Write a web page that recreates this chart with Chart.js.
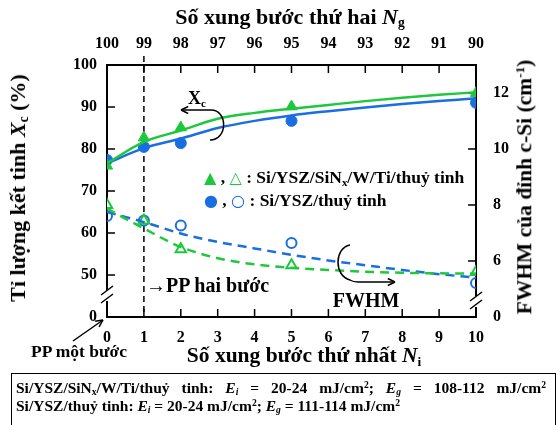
<!DOCTYPE html>
<html>
<head>
<meta charset="utf-8">
<script src="https://cdn.jsdelivr.net/npm/chart.js@4.4.1/dist/chart.umd.min.js"></script>
<style>
  html, body { margin: 0; padding: 0; background: #fff; }
  #wrap { position: relative; width: 560px; height: 425px; overflow: hidden; font-family: 'Liberation Serif', 'Times New Roman', serif; font-weight: bold; color: #000; }
  #c { position: absolute; left: 0; top: 0; }
  .t { position: absolute; white-space: nowrap; line-height: 1; }
  .c { transform: translate(-50%, -50%); }
  .r { transform: translate(-50%, -50%) rotate(-90deg); }
  sub { font-size: 0.62em; vertical-align: -0.25em; line-height: 0; }
  sup { font-size: 0.62em; vertical-align: 0.55em; line-height: 0; }
  .g { color: rgb(30, 200, 60); }
  .b { color: rgb(25, 110, 225); }
  .sym { font-family: 'DejaVu Sans', sans-serif; font-size: 16px; }
  #box { position: absolute; left: 11px; top: 373px; width: 545px; height: 60px; border: 1px solid #000; box-sizing: border-box; }
  .just { text-align: justify; text-align-last: justify; white-space: normal; }
</style>
</head>
<body>
<div id="wrap">
  <canvas id="c" width="560" height="425"></canvas>
  <div class="t c" style="left:290px;top:17px;font-size:22px">Số xung bước thứ hai <i>N</i><sub>g</sub></div>
  <div class="t c" style="left:304px;top:356px;font-size:21.5px">Số xung bước thứ nhất <i>N</i><sub>i</sub></div>
  <div class="t r" style="left:18px;top:188px;font-size:22px">Tỉ lượng kết tinh <i>X</i><sub>c</sub> (%)</div>
  <div class="t r" style="left:525px;top:187px;font-size:21.5px">FWHM của đỉnh c-Si (cm<sup>-1</sup>)</div>
  <div class="t" style="left:204px;top:169px;font-size:17.5px"><span class="sym g">▲</span> , <span class="sym g">△</span> : Si/YSZ/SiN<sub>x</sub>/W/Ti/thuỷ tinh</div>
  <div class="t" style="left:204px;top:192px;font-size:17.5px"><span class="sym b">●</span> , <span class="sym b">○</span> : Si/YSZ/thuỷ tinh</div>
  <div class="t c" style="left:197px;top:98px;font-size:18px">X<sub>c</sub></div>
  <div class="t c" style="left:366px;top:300px;font-size:20px">FWHM</div>
  <div class="t" style="left:146px;top:275px;font-size:20px">→PP hai bước</div>
  <div class="t c" style="left:79px;top:352px;font-size:17.5px">PP một bước</div>
  <div id="box"></div>
  <div class="t just" style="left:16px;top:380px;width:530px;font-size:15.5px">Si/YSZ/SiN<sub>x</sub>/W/Ti/thuỷ tinh: <i>E<sub>i</sub></i> = 20-24 mJ/cm<sup>2</sup>; <i>E<sub>g</sub></i> = 108-112 mJ/cm<sup>2</sup></div>
  <div class="t" style="left:16px;top:398px;font-size:15.5px">Si/YSZ/thuỷ tinh: <i>E<sub>i</sub></i> = 20-24 mJ/cm<sup>2</sup>; <i>E<sub>g</sub></i> = 111-114 mJ/cm<sup>2</sup></div>
</div>
<script>
// ---- data ----
const ngLabels = ['100', '99', '98', '97', '96', '95', '94', '93', '92', '91', '90'];
const leftTicks = [40, 50, 60, 70, 80, 90, 100];   // 40 shown as "0" (axis break)
const rightTicks = [4, 6, 8, 10, 12];              // 4 shown as "0" (axis break)

const ptX = [0, 1, 2, 5, 10];
const xcGreen = [76.0, 82.7, 85.1, 90.1, 93.3];
const xcBlue = [77.4, 80.5, 81.4, 86.7, 91.0];
const fwGreen = [8.0, 7.45, 6.42, 5.85, 5.61];
const fwBlue = [7.61, 7.45, 7.27, 6.64, 5.21];

const fitX = [0, 1, 2, 3, 4, 5, 6, 7, 8, 9, 10];
const xcGreenFit = [76.6, 81.7, 84.4, 87.2, 88.6, 89.6, 90.5, 91.4, 92.2, 92.9, 93.5];
const xcBlueFit = [76.6, 80.2, 82.5, 85.0, 86.7, 88.0, 89.0, 89.9, 90.7, 91.4, 92.1];
const fwGreenFit = [7.87, 7.16, 6.5, 6.1, 5.88, 5.76, 5.68, 5.62, 5.58, 5.56, 5.55];
const fwBlueFit = [7.75, 7.39, 6.98, 6.68, 6.45, 6.22, 6.02, 5.85, 5.68, 5.53, 5.41];

const GREEN = 'rgb(30,200,60)';
const BLUE = 'rgb(25,110,225)';

const pts = (xs, ys) => xs.map((x, i) => ({ x: x, y: ys[i] }));

const tickFont = { family: "'Liberation Serif', serif", size: 16, weight: 'bold' };

function arrowHead(ctx, x, y, ang, len) {
  ctx.beginPath();
  ctx.moveTo(x, y);
  ctx.lineTo(x - len * Math.cos(ang - 0.45), y - len * Math.sin(ang - 0.45));
  ctx.moveTo(x, y);
  ctx.lineTo(x - len * Math.cos(ang + 0.45), y - len * Math.sin(ang + 0.45));
  ctx.stroke();
}

const framePlugin = {
  id: 'frame',
  beforeDatasetsDraw(chart) {
    const ctx = chart.ctx;
    const a = chart.chartArea;
    const sx = chart.scales.x, sy = chart.scales.y, sy2 = chart.scales.y2;
    const L = a.left, R = a.right, T = a.top, B = a.bottom;
    ctx.save();
    ctx.strokeStyle = '#000';
    ctx.lineWidth = 2;
    ctx.lineCap = 'butt';
    ctx.beginPath();
    ctx.moveTo(L - 1, T); ctx.lineTo(R + 1, T);
    ctx.moveTo(L - 1, B); ctx.lineTo(R + 1, B);
    ctx.moveTo(L, T); ctx.lineTo(L, 290);
    ctx.moveTo(L, 301); ctx.lineTo(L, B);
    ctx.moveTo(R, T); ctx.lineTo(R, 296);
    ctx.moveTo(R, 307); ctx.lineTo(R, B);
    ctx.stroke();
    // break marks
    ctx.lineWidth = 1.5;
    ctx.beginPath();
    [[L, 291], [L, 299], [R, 297], [R, 305]].forEach(([x, y]) => {
      ctx.moveTo(x - 6, y + 4); ctx.lineTo(x + 6, y - 5);
    });
    ctx.stroke();
    // inward ticks
    ctx.lineWidth = 1.5;
    ctx.beginPath();
    for (let v = 1; v <= 9; v++) {
      const px = sx.getPixelForValue(v);
      ctx.moveTo(px, B); ctx.lineTo(px, B - 8);
      ctx.moveTo(px, T); ctx.lineTo(px, T + 8);
    }
    [50, 60, 70, 80, 90].forEach(v => {
      const py = sy.getPixelForValue(v);
      ctx.moveTo(L, py); ctx.lineTo(L + 8, py);
    });
    [6, 8, 10, 12].forEach(v => {
      const py = sy2.getPixelForValue(v);
      ctx.moveTo(R, py); ctx.lineTo(R - 8, py);
    });
    ctx.stroke();
    // dashed line at Ni = 1
    const x1 = sx.getPixelForValue(1);
    ctx.setLineDash([6, 4]);
    ctx.lineWidth = 1.5;
    ctx.beginPath();
    ctx.moveTo(x1, T - 9); ctx.lineTo(x1, B);
    ctx.stroke();
    ctx.setLineDash([]);
    ctx.restore();
  },
  afterDraw(chart) {
    const ctx = chart.ctx;
    ctx.save();
    ctx.strokeStyle = '#000';
    ctx.lineWidth = 1.5;
    // Xc arrow: bracket + arrow to the left
    ctx.beginPath();
    ctx.moveTo(211, 110);
    ctx.bezierCurveTo(228, 110, 228, 140, 210, 140);
    ctx.moveTo(211, 110); ctx.lineTo(181, 110);
    ctx.stroke();
    arrowHead(ctx, 181, 110, Math.PI, 8);
    // FWHM arrow: bracket + arrow to the right
    ctx.beginPath();
    ctx.moveTo(350, 245);
    ctx.bezierCurveTo(334, 248, 334, 276, 350, 280);
    ctx.quadraticCurveTo(353, 282, 358, 282);
    ctx.lineTo(395, 282);
    ctx.stroke();
    arrowHead(ctx, 395, 282, 0, 8);
    // PP mot buoc arrow
    ctx.beginPath();
    ctx.moveTo(73, 341); ctx.lineTo(103, 320);
    ctx.stroke();
    arrowHead(ctx, 103, 320, Math.atan2(-21, 30), 8);
    ctx.restore();
  }
};

new Chart(document.getElementById('c'), {
  type: 'line',
  data: {
    datasets: [
      { label: 'Xc fit SiNx', data: pts(fitX, xcGreenFit), yAxisID: 'y', borderColor: GREEN, borderWidth: 2.5, pointRadius: 0, tension: 0.4, cubicInterpolationMode: 'monotone', fill: false },
      { label: 'Xc fit YSZ', data: pts(fitX, xcBlueFit), yAxisID: 'y', borderColor: BLUE, borderWidth: 2.5, pointRadius: 0, tension: 0.4, cubicInterpolationMode: 'monotone', fill: false },
      { label: 'FWHM fit SiNx', data: pts(fitX, fwGreenFit), yAxisID: 'y2', borderColor: GREEN, borderWidth: 2.5, borderDash: [9, 6], pointRadius: 0, tension: 0.4, cubicInterpolationMode: 'monotone', fill: false },
      { label: 'FWHM fit YSZ', data: pts(fitX, fwBlueFit), yAxisID: 'y2', borderColor: BLUE, borderWidth: 2.5, borderDash: [9, 6], pointRadius: 0, tension: 0.4, cubicInterpolationMode: 'monotone', fill: false },
      { label: 'Xc Si/YSZ/SiNx/W/Ti', data: pts(ptX, xcGreen), yAxisID: 'y', showLine: false, pointStyle: 'triangle', pointRadius: 6.5, backgroundColor: GREEN, borderColor: GREEN, borderWidth: 1 },
      { label: 'Xc Si/YSZ', data: pts(ptX, xcBlue), yAxisID: 'y', showLine: false, pointStyle: 'circle', pointRadius: 5.5, backgroundColor: BLUE, borderColor: BLUE, borderWidth: 1 },
      { label: 'FWHM Si/YSZ/SiNx/W/Ti', data: pts(ptX, fwGreen), yAxisID: 'y2', showLine: false, pointStyle: 'triangle', pointRadius: 6, backgroundColor: '#fff', borderColor: GREEN, borderWidth: 2 },
      { label: 'FWHM Si/YSZ', data: pts(ptX, fwBlue), yAxisID: 'y2', showLine: false, pointStyle: 'circle', pointRadius: 5, backgroundColor: 'rgba(255,255,255,0)', borderColor: BLUE, borderWidth: 2 }
    ]
  },
  options: {
    responsive: false,
    animation: false,
    layout: { padding: 0 },
    plugins: { legend: { display: false }, tooltip: { enabled: false } },
    scales: {
      x: {
        type: 'linear', position: 'bottom', min: 0, max: 10,
        grid: { display: false, drawTicks: false, tickLength: 0 },
        border: { display: false },
        ticks: { stepSize: 1, font: tickFont, color: '#000', padding: 11, maxRotation: 0 },
        afterFit(s) { s.height = 108; }
      },
      x2: {
        type: 'linear', position: 'top', min: 0, max: 10,
        grid: { display: false, drawTicks: false, tickLength: 0 },
        border: { display: false },
        ticks: { stepSize: 1, font: tickFont, color: '#000', padding: 12, maxRotation: 0, callback: v => ngLabels[v] },
        afterFit(s) { s.height = 65; }
      },
      y: {
        type: 'linear', position: 'left', min: 40, max: 100,
        grid: { display: false, drawTicks: false, tickLength: 0 },
        border: { display: false },
        afterBuildTicks(s) { s.ticks = leftTicks.map(v => ({ value: v })); },
        ticks: { font: tickFont, color: '#000', padding: 10, callback: v => (v === 40 ? '0' : String(v)) },
        afterFit(s) { s.width = 107; }
      },
      y2: {
        type: 'linear', position: 'right', min: 4, max: 13,
        grid: { display: false, drawTicks: false, tickLength: 0 },
        border: { display: false },
        afterBuildTicks(s) { s.ticks = rightTicks.map(v => ({ value: v })); },
        ticks: { font: tickFont, color: '#000', padding: 17, callback: v => (v === 4 ? '0' : String(v)) },
        afterFit(s) { s.width = 84; }
      }
    }
  },
  plugins: [framePlugin]
});
</script>
</body>
</html>
